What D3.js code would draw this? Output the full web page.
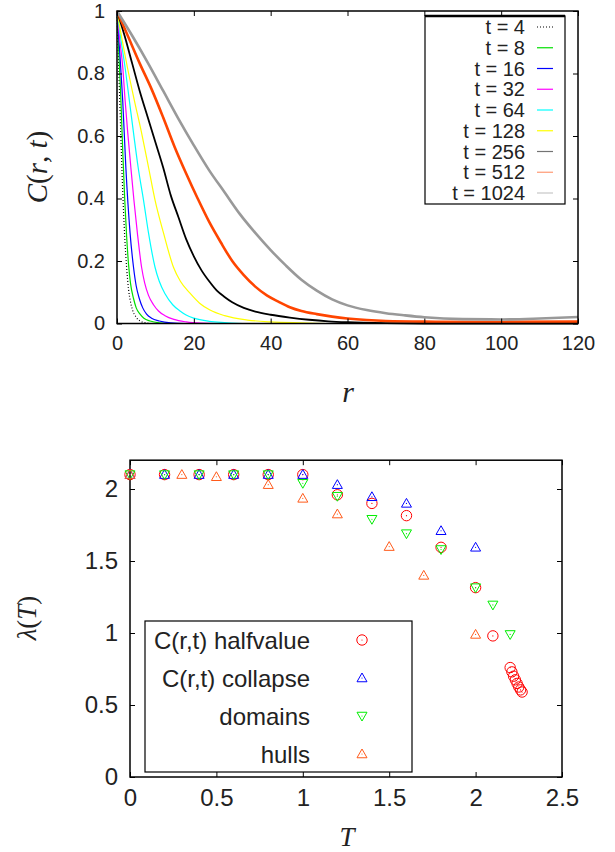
<!DOCTYPE html>
<html>
<head>
<meta charset="utf-8">
<script src="https://cdn.jsdelivr.net/npm/d3@7"></script>
<style>
  body { margin: 0; background: #fff; }
  svg text { font-family: "Liberation Sans", Arial, sans-serif; fill: #222; }
  svg .math { font-family: "Liberation Serif", "DejaVu Serif", serif; font-style: italic; }
  svg .up { font-style: normal; }
</style>
</head>
<body>
<svg id="fig" width="615" height="852"></svg>
<script>
// ----------------------------------------------
// top panel: C(r,t) for several times
// ----------------------------------------------
var T_NAMES = ["t = 4", "t = 8", "t = 16", "t = 32", "t = 64", "t = 128", "t = 256", "t = 512", "t = 1024"];
var T_COLORS = ["#000000", "#00e000", "#0000ff", "#ff00ff", "#00ffff", "#ffff00", "#000000", "#ff4500", "#999999"];

var c4 = [[0,1],[0.5,0.8],[1,0.6],[1.5,0.42],[2,0.28],[2.5,0.18],[3,0.11],[3.5,0.07],[4,0.045],[5,0.02],[6,0.008],[7.5,0.002],[9,0],[120,0]];
var c8 = [[0,1],[0.5,0.86],[1,0.72],[1.5,0.55],[2,0.4],[2.5,0.28],[3,0.19],[3.5,0.13],[4.3,0.08],[5,0.05],[6,0.03],[7,0.017],[8.6,0.008],[11,0.002],[14,0],[120,0]];
var c16 = [[0,1],[0.75,0.86],[1.5,0.71],[2.3,0.5],[3.4,0.29],[4.3,0.18],[5,0.12],[5.8,0.08],[6.7,0.05],[7.7,0.03],[9,0.017],[11,0.008],[14,0.002],[18,0],[120,0]];
var c32 = [[0,1],[0.7,0.91],[1.5,0.82],[2.1,0.715],[2.8,0.61],[3.6,0.5],[4.4,0.395],[5.3,0.29],[6.4,0.18],[7.2,0.13],[8.2,0.09],[9.5,0.06],[10.8,0.04],[12.5,0.025],[14.8,0.013],[18,0.005],[22,0.001],[26,0],[120,0]];
var c64 = [[0,1],[1,0.91],[2.1,0.82],[3.2,0.715],[4.3,0.61],[5.5,0.5],[6.9,0.395],[8.2,0.29],[9.9,0.18],[11,0.135],[12.5,0.095],[14.5,0.06],[16.4,0.04],[18,0.027],[20,0.017],[24,0.007],[28,0.003],[34,0],[120,0]];
var c128 = [[0,1],[1,0.93],[2.7,0.82],[4.5,0.715],[6.4,0.61],[8.2,0.5],[9.9,0.395],[12.1,0.29],[14.7,0.18],[16.5,0.135],[19,0.097],[21.5,0.065],[24.2,0.043],[28,0.025],[34,0.011],[40,0.005],[48,0.002],[56,0],[120,0]];
var c256 = [[0,1],[2,0.92],[4,0.83],[6,0.74],[8,0.66],[10,0.58],[12,0.5],[14,0.41],[16,0.34],[18,0.27],[20,0.215],[22,0.17],[24,0.135],[26,0.105],[28,0.085],[30,0.068],[33,0.05],[36,0.038],[40,0.028],[45,0.019],[50,0.012],[55,0.007],[60,0.004],[70,0.001],[80,0],[120,0]];
var c512 = [[0,1],[3,0.915],[6,0.83],[9,0.75],[12,0.66],[15,0.565],[18,0.48],[21,0.4],[24,0.325],[27,0.26],[30,0.2],[33,0.155],[36,0.118],[39,0.09],[42,0.07],[45,0.052],[48,0.04],[52,0.03],[56,0.022],[60,0.016],[65,0.011],[70,0.008],[80,0.006],[100,0.005],[120,0.006]];
var c1024 = [[0,1],[4,0.92],[8,0.835],[12,0.745],[16,0.655],[20,0.57],[24,0.49],[28,0.42],[32,0.35],[36,0.29],[40,0.235],[44,0.185],[48,0.14],[52,0.105],[56,0.077],[60,0.058],[65,0.043],[70,0.033],[75,0.026],[80,0.02],[90,0.014],[100,0.013],[110,0.016],[120,0.021]];
var CURVES = [c4, c8, c16, c32, c64, c128, c256, c512, c1024];

var R_TICKS = [0, 20, 40, 60, 80, 100, 120];
var C_TICKS = [0, 0.2, 0.4, 0.6, 0.8, 1];

// ----------------------------------------------
// bottom panel: lambda(T) from four methods
// ----------------------------------------------
var M_NAMES = ["C(r,t) halfvalue", "C(r,t) collapse", "domains", "hulls"];
var M_COLORS = ["#ff0000", "#0000ff", "#00ee00", "#ff5a1a"];
var M_SHAPES = ["circle", "up", "down", "up"];

var halfvalue = [[0,2.1],[0.2,2.1],[0.4,2.1],[0.6,2.1],[0.8,2.1],[1.0,2.1],[1.2,1.96],[1.4,1.9],[1.6,1.815],[1.8,1.595],[2.0,1.315],[2.1,0.98],
                 [2.2,0.76],[2.21,0.73],[2.22,0.7],[2.23,0.675],[2.24,0.65],[2.25,0.625],[2.26,0.605],[2.269,0.59]];
var collapse = [[0,2.1],[0.2,2.1],[0.4,2.1],[0.6,2.1],[0.8,2.1],[1.0,2.1],[1.2,2.03],[1.4,1.946],[1.6,1.9],[1.8,1.71],[2.0,1.595]];
var domains = [[0,2.1],[0.2,2.1],[0.4,2.1],[0.6,2.1],[0.8,2.1],[1.0,2.04],[1.2,1.95],[1.4,1.79],[1.6,1.69],[1.8,1.58],[2.0,1.315],[2.1,1.195],[2.2,0.99]];
var hulls = [[0,2.1],[0.3,2.1],[0.5,2.085],[0.8,2.03],[1.0,1.935],[1.2,1.826],[1.5,1.6],[1.7,1.4],[2.0,0.99]];
var METHODS = [halfvalue, collapse, domains, hulls];

var T_TICKS = [0, 0.5, 1, 1.5, 2, 2.5];
var L_TICKS = [0, 0.5, 1, 1.5, 2];


var svg = d3.select("#fig");

// draws a framed panel with inward ticks on all four sides
function frame(g, x, y, xt, yt, fs) {
    var x0 = x.range()[0], x1 = x.range()[1], y0 = y.range()[0], y1 = y.range()[1];
    g.append("g").attr("transform", "translate(0," + y0 + ")")
        .call(d3.axisBottom(x).tickValues(xt).tickSize(-5).tickPadding(12).tickFormat(String));
    g.append("g").attr("transform", "translate(0," + y1 + ")")
        .call(d3.axisTop(x).tickValues(xt).tickSize(-5).tickFormat(""));
    g.append("g").attr("transform", "translate(" + x0 + ",0)")
        .call(d3.axisLeft(y).tickValues(yt).tickSize(-5).tickPadding(12).tickFormat(String));
    g.append("g").attr("transform", "translate(" + x1 + ",0)")
        .call(d3.axisRight(y).tickValues(yt).tickSize(-5).tickFormat(""));
    g.selectAll(".domain").remove();
    g.selectAll(".tick line").attr("stroke", "#000").attr("stroke-width", 1);
    g.selectAll(".tick text").attr("fill", "#222").style("font-size", fs + "px")
        .attr("font-family", null);
    g.append("rect")
        .attr("x", x0).attr("y", y1).attr("width", x1 - x0).attr("height", y0 - y1)
        .attr("fill", "none").attr("stroke", "#000").attr("stroke-width", 1.5);
}


// ---------------- top panel ----------------
var xr = d3.scaleLinear().domain([0, 120]).range([117, 578]);
var yc = d3.scaleLinear().domain([0, 1]).range([323.5, 11]);

var topPanel = svg.append("g");

var line = d3.line()
    .x(function (d) { return xr(d[0]); })
    .y(function (d) { return yc(d[1]); })
    .curve(d3.curveMonotoneX);

topPanel.selectAll(".curve")
    .data(CURVES)
  .enter().append("path")
    .attr("class", "curve")
    .attr("d", line)
    .attr("fill", "none")
    .attr("stroke", function (d, i) { return T_COLORS[i]; })
    .attr("stroke-width", function (d, i) { return i >= 7 ? 2.6 : (i == 6 ? 1.8 : 1.2); })
    .attr("stroke-dasharray", function (d, i) { return i == 0 ? "1,2" : null; });

frame(topPanel, xr, yc, R_TICKS, C_TICKS, 20);

// legend box
var lg = topPanel.append("g");
lg.append("rect").attr("x", 425).attr("y", 16).attr("width", 140).attr("height", 188)
    .attr("fill", "#fff").attr("stroke", "#000").attr("stroke-width", 1.2);
lg.append("line").attr("x1", 425).attr("x2", 565).attr("y1", 16).attr("y2", 16)
    .attr("stroke", "#000").attr("stroke-width", 2.5);

var lgRow = d3.scaleLinear().domain([0, 8]).range([27, 193]);
T_NAMES.forEach(function (name, i) {
    lg.append("text").attr("x", 525).attr("y", lgRow(i)).attr("dy", "0.36em")
        .attr("text-anchor", "end").style("font-size", "20px").text(name);
    lg.append("line").attr("x1", 537).attr("x2", 553).attr("y1", lgRow(i)).attr("y2", lgRow(i))
        .attr("stroke", T_COLORS[i]).attr("stroke-width", 1.2)
        .attr("stroke-opacity", i >= 6 ? 0.55 : 1)
        .attr("stroke-dasharray", i == 0 ? "1,2" : null);
});

// axis titles
var ct = topPanel.append("text").attr("class", "math")
    .attr("transform", "translate(47,167) rotate(-90)")
    .attr("text-anchor", "middle").style("font-size", "29px");
ct.append("tspan").text("C");
ct.append("tspan").attr("class", "up").text("(");
ct.append("tspan").text("r");
ct.append("tspan").attr("class", "up").text(", ");
ct.append("tspan").text("t");
ct.append("tspan").attr("class", "up").text(")");

topPanel.append("text").attr("class", "math").attr("x", 348).attr("y", 402)
    .attr("text-anchor", "middle").style("font-size", "30px").text("r");


// ---------------- bottom panel ----------------
var xt = d3.scaleLinear().domain([0, 2.5]).range([130, 562]);
var yl = d3.scaleLinear().domain([0, 2.2]).range([777, 460.2]);

var bot = svg.append("g");

frame(bot, xt, yl, T_TICKS, L_TICKS, 24);

var tri = 5;
function marker(g, shape, color) {
    if (shape == "circle") {
        g.append("circle").attr("r", 5.2).attr("fill", "none").attr("stroke", color).attr("stroke-width", 1);
    } else {
        var s = shape == "up" ? 1 : -1;
        g.append("path")
            .attr("d", "M0," + (-s * tri) + "L" + tri + "," + (s * tri * 0.75) + "L" + (-tri) + "," + (s * tri * 0.75) + "Z")
            .attr("fill", "none").attr("stroke", color).attr("stroke-width", 1);
    }
    g.append("circle").attr("r", 0.6).attr("fill", color);
}

METHODS.forEach(function (pts, k) {
    bot.selectAll(".m" + k)
        .data(pts)
      .enter().append("g")
        .attr("class", "m" + k)
        .attr("transform", function (d) { return "translate(" + xt(d[0]) + "," + yl(d[1]) + ")"; })
        .each(function () { marker(d3.select(this), M_SHAPES[k], M_COLORS[k]); });
});

// legend box
var lb = bot.append("g");
lb.append("rect").attr("x", 145).attr("y", 621).attr("width", 267).attr("height", 151)
    .attr("fill", "#fff").attr("stroke", "#000").attr("stroke-width", 1.2);
var lbRow = d3.scaleLinear().domain([0, 3]).range([640, 754]);
M_NAMES.forEach(function (name, i) {
    lb.append("text").attr("x", 310).attr("y", lbRow(i)).attr("dy", "0.36em")
        .attr("text-anchor", "end").style("font-size", "24px").text(name);
    marker(lb.append("g").attr("transform", "translate(362," + lbRow(i) + ")"), M_SHAPES[i], M_COLORS[i]);
});

var lt = bot.append("text").attr("class", "math")
    .attr("transform", "translate(36,618) rotate(-90)")
    .attr("text-anchor", "middle").style("font-size", "27px");
lt.append("tspan").text("λ");
lt.append("tspan").attr("class", "up").text("(");
lt.append("tspan").text("T");
lt.append("tspan").attr("class", "up").text(")");

bot.append("text").attr("class", "math").attr("x", 347).attr("y", 846)
    .attr("text-anchor", "middle").style("font-size", "27px").text("T");
</script>
</body>
</html>
